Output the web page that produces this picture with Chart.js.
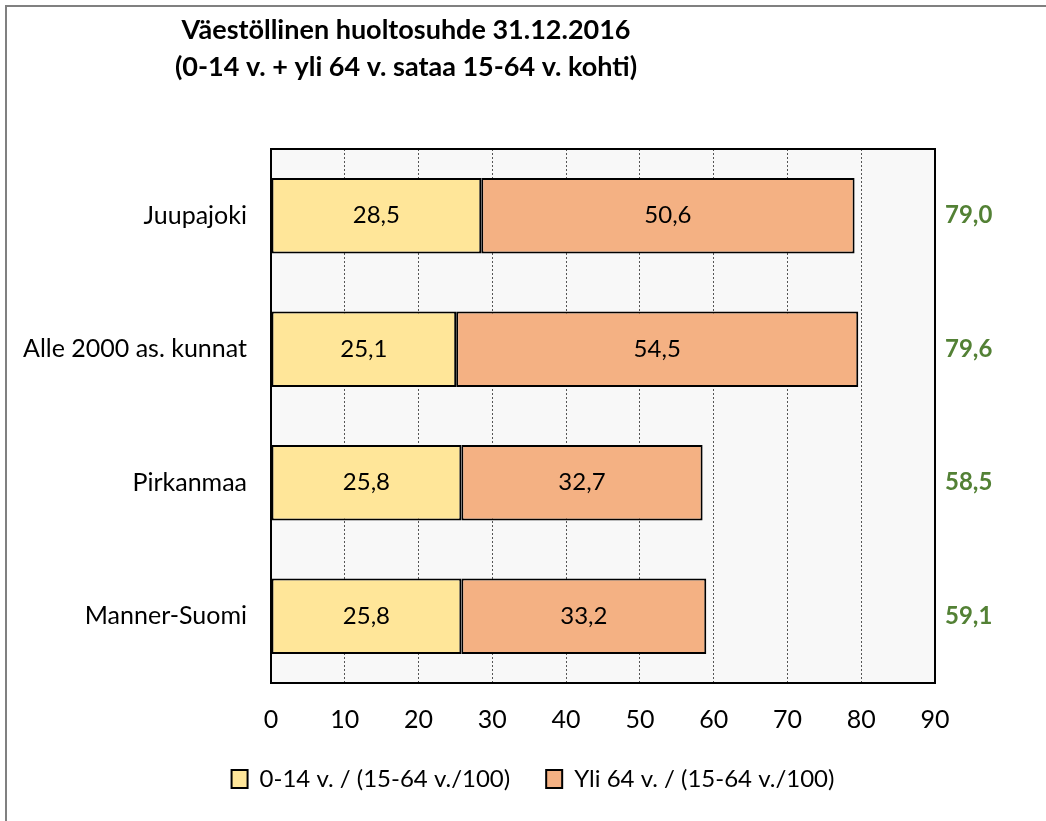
<!DOCTYPE html>
<html>
<head>
<meta charset="utf-8">
<script src="https://cdn.jsdelivr.net/npm/chart.js@4.4.1/dist/chart.umd.min.js"></script>
<style>
  html, body { margin: 0; padding: 0; background: #fff; overflow: hidden; }
  #frame { position: absolute; left: 5px; top: 5px; width: 1100px; height: 900px; border: 2px solid #808080; }
  #wrap { position: absolute; left: 0; top: 0; width: 1046px; height: 821px; }
</style>
</head>
<body>
<div id="frame"></div>
<div id="wrap"><canvas id="chart" width="1046" height="821"></canvas></div>
<script>
// Tiedot kuvasta luettuna
const categories = ["Juupajoki", "Alle 2000 as. kunnat", "Pirkanmaa", "Manner-Suomi"];
const children = [28.5, 25.1, 25.8, 25.8];     // 0-14 v.
const elderly = [50.6, 54.5, 32.7, 33.2];      // yli 64 v.
const totals = [79.0, 79.6, 58.5, 59.1];       // kokonaishuoltosuhde
const seriesNames = ["0-14 v. / (15-64 v./100)", "Yli 64 v. / (15-64 v./100)"];
const titleLines = ["Väestöllinen huoltosuhde 31.12.2016", "(0-14 v. + yli 64 v. sataa 15-64 v. kohti)"];

const FONT = "Lato, 'Noto Sans', sans-serif";
const fmt = v => v.toFixed(1).replace(".", ",");

// Otsikko, taustaväri ja kehys piirtoalueelle
const framePlugin = {
    id: "framePlugin",
    beforeDraw(chart) {
        const { ctx, chartArea: a } = chart;
        ctx.save();
        ctx.fillStyle = "#f8f8f8";
        ctx.fillRect(a.left, a.top, a.right - a.left, a.bottom - a.top);
        ctx.restore();
    },
    beforeDatasetsDraw(chart) {
        const { ctx, chartArea: a } = chart;
        ctx.save();
        ctx.strokeStyle = "#000";
        ctx.lineWidth = 2;
        ctx.strokeRect(a.left, a.top, a.right - a.left, a.bottom - a.top);
        ctx.restore();
    },
    afterDraw(chart) {
        const { ctx } = chart;
        ctx.save();
        ctx.fillStyle = "#000";
        ctx.font = "bold 27px " + FONT;
        ctx.textAlign = "center";
        ctx.textBaseline = "middle";
        ctx.fillText(titleLines[0], 406, 30);
        ctx.fillText(titleLines[1], 406, 67);
        ctx.restore();
    }
};

// Arvot palkkien sisään ja summat oikealle
const labelPlugin = {
    id: "labelPlugin",
    afterDatasetsDraw(chart) {
        const { ctx, chartArea: a } = chart;
        ctx.save();
        ctx.textAlign = "center";
        ctx.textBaseline = "middle";
        ctx.font = "24px " + FONT;
        ctx.fillStyle = "#000";
        chart.data.datasets.forEach((ds, di) => {
            chart.getDatasetMeta(di).data.forEach((bar, i) => {
                const p = bar.getProps(["x", "y", "base"], true);
                ctx.fillText(fmt(ds.data[i]), (p.x + p.base) / 2, p.y);
            });
        });
        const yScale = chart.scales.y;
        ctx.font = "bold 24px " + FONT;
        ctx.fillStyle = "#538135";
        ctx.textAlign = "left";
        totals.forEach((t, i) => {
            ctx.fillText(fmt(t), a.right + 10, yScale.getPixelForValue(i));
        });
        ctx.restore();
    }
};

new Chart(document.getElementById("chart"), {
    type: "bar",
    data: {
        labels: categories,
        datasets: [
            {
                label: seriesNames[0],
                data: children,
                backgroundColor: "#ffe699",
                borderColor: "#000",
                borderWidth: 2,
                borderSkipped: false,
                barPercentage: 0.565,
                categoryPercentage: 1
            },
            {
                label: seriesNames[1],
                data: elderly,
                backgroundColor: "#f4b183",
                borderColor: "#000",
                borderWidth: 2,
                borderSkipped: false,
                barPercentage: 0.565,
                categoryPercentage: 1
            }
        ]
    },
    options: {
        indexAxis: "y",
        responsive: false,
        animation: false,
        layout: { padding: { top: 149, right: 0, left: 20, bottom: 20 } },
        plugins: {
            legend: {
                position: "bottom",
                labels: {
                    font: { family: FONT, size: 24 },
                    color: "#000",
                    boxWidth: 16,
                    boxHeight: 18,
                    padding: 36
                }
            },
            title: { display: false },
            tooltip: { enabled: false }
        },
        scales: {
            x: {
                stacked: true,
                min: 0,
                max: 90,
                ticks: {
                    stepSize: 10,
                    color: "#000",
                    padding: 22,
                    font: { family: FONT, size: 25 }
                },
                grid: {
                    drawTicks: false,
                    color: ctx => (ctx.tick && (ctx.tick.value === 0 || ctx.tick.value === 90)) ? "rgba(0,0,0,0)" : "#555",
                    lineWidth: 1
                },
                border: { display: false, dash: [2, 2] },
                afterFit(scale) { scale.height = 48; }
            },
            y: {
                stacked: true,
                ticks: {
                    color: "#000",
                    padding: 24,
                    font: { family: FONT, size: 25 }
                },
                grid: { display: false, drawTicks: false },
                border: { display: false },
                afterFit(scale) { scale.width = 251; }
            },
            // tyhjä akseli oikealle summia varten
            y2: {
                type: "category",
                position: "right",
                labels: categories,
                ticks: { display: false },
                grid: { display: false, drawTicks: false },
                border: { display: false },
                afterFit(scale) { scale.width = 111; }
            }
        }
    },
    plugins: [framePlugin, labelPlugin]
});
</script>
</body>
</html>
